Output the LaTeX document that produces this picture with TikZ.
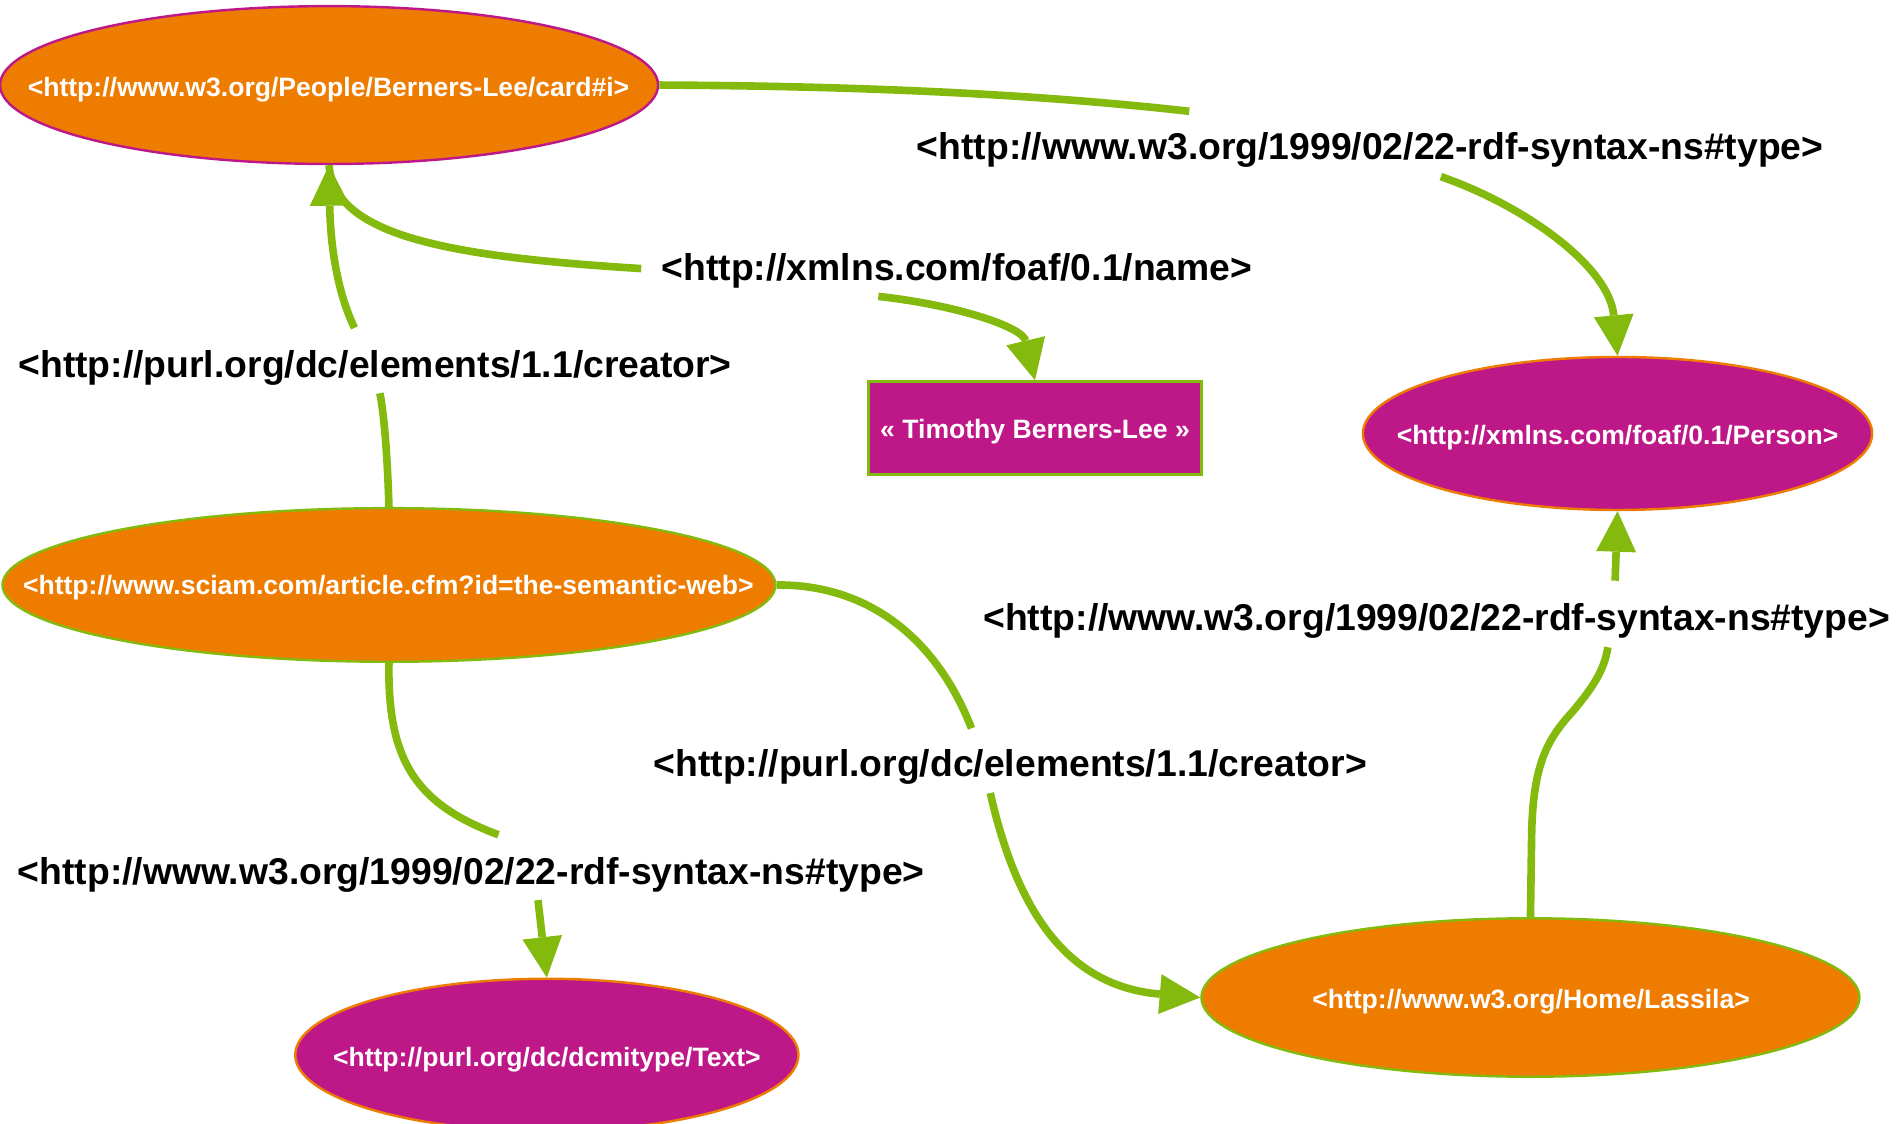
\documentclass[tikz,border=0pt]{standalone}
\usepackage{fontspec}
\setmainfont{Liberation Sans}
\usetikzlibrary{shapes.geometric,arrows.meta}
\definecolor{rdforange}{RGB}{238,124,0}
\definecolor{rdfmagenta}{RGB}{190,24,136}
\definecolor{rdfgreen}{RGB}{132,186,14}
\begin{document}
\begin{tikzpicture}[x=0.02cm,y=-0.02cm,
  ellnode/.style={ellipse, inner sep=0pt, line width=0.04cm},
  resnode/.style={ellnode, fill=rdforange},
  clsnode/.style={ellnode, fill=rdfmagenta, draw=rdforange},
  litnode/.style={rectangle, inner sep=0pt, fill=rdfmagenta, draw=rdfgreen, line width=0.05cm},
  ntext/.style={font=\bfseries\fontsize{12.5}{15}\selectfont, text=white, inner sep=0pt},
  lbl/.style={font=\bfseries\fontsize{17.55}{20}\selectfont, text=black, inner sep=0pt},
  edge/.style={draw=rdfgreen, line width=0.126cm},
  arr/.style={-{Triangle[length=0.67cm,width=0.66cm,line width=0pt]}}
]
\useasboundingbox (0,0) rectangle (1568,929);

% nodes
\node[resnode, draw=rdfmagenta, minimum width=10.88cm, minimum height=2.61cm] (A) at (272,70.3) {};
\node[clsnode, minimum width=8.42cm, minimum height=2.53cm] (B) at (1337,358.3) {};
\node[litnode, minimum width=5.52cm, minimum height=1.54cm] (C) at (855.5,354) {};
\node[resnode, draw=rdfgreen, minimum width=12.78cm, minimum height=2.54cm] (D) at (321.5,483.5) {};
\node[resnode, draw=rdfgreen, minimum width=10.88cm, minimum height=2.62cm] (E) at (1265,824.5) {};
\node[clsnode, minimum width=8.32cm, minimum height=2.52cm] (F) at (452,872) {};

\node[ntext] (At) at (271.5,74) {<http://www.w3.org/People/Berners-Lee/card\#i>};
\node[ntext] (Bt) at (1337,362) {<http://xmlns.com/foaf/0.1/Person>};
\node[ntext] (Ct) at (855.5,357) {« Timothy Berners-Lee »};
\node[ntext] (Dt) at (321,486) {<http://www.sciam.com/article.cfm?id=the-semantic-web>};
\node[ntext] (Et) at (1265.5,828) {<http://www.w3.org/Home/Lassila>};
\node[ntext] (Ft) at (452,876) {<http://purl.org/dc/dcmitype/Text>};

% labels
\node[lbl] (L1) at (1132.5,124) {<http://www.w3.org/1999/02/22-rdf-syntax-ns\#type>};
\node[lbl] (L2) at (791,224) {<http://xmlns.com/foaf/0.1/name>};
\node[lbl] (L3) at (310,304) {<http://purl.org/dc/elements/1.1/creator>};
\node[lbl] (L4) at (1187.5,513) {<http://www.w3.org/1999/02/22-rdf-syntax-ns\#type>};
\node[lbl] (L5) at (835,634) {<http://purl.org/dc/elements/1.1/creator>};
\node[lbl] (L6) at (389.5,723) {<http://www.w3.org/1999/02/22-rdf-syntax-ns\#type>};

% connector ends at the labels
\coordinate (e1a) at (983,92);
\coordinate (e1b) at (1191,146);
\coordinate (e2a) at (530,222);
\coordinate (e2b) at (726,245);
\coordinate (e3a) at (314,325);
\coordinate (e3b) at (293,271);
\coordinate (e4a) at (803,602);
\coordinate (e4b) at (818.5,655.5);
\coordinate (e5a) at (412,690);
\coordinate (e5b) at (444.7,744);
\coordinate (e6a) at (1329,535);
\coordinate (e6b) at (1335,480);

% connectors
\draw[edge] (A.east) .. controls (700,71) and (850,77) .. (e1a);
\draw[edge,arr] (e1b) .. controls (1260,170) and (1330,220) .. (B.north);
\draw[edge] (A.south) .. controls (276,195) and (370,212) .. (e2a);
\draw[edge,arr] (e2b) .. controls (790,252) and (845,270) .. (C.north);
\draw[edge] (D.north) .. controls (320,370) and (317,340) .. (e3a);
\draw[edge,arr] (e3b) .. controls (278,240) and (273,200) .. (A.south);
\draw[edge] (D.east) .. controls (720,483) and (775,530) .. (e4a);
\draw[edge,arr] (e4b) .. controls (840,750) and (880,815) .. (E.west);
\draw[edge] (D.south) .. controls (320,630) and (345,665) .. (e5a);
\draw[edge,arr] (e5b) -- (F.north);
\draw[edge] (E.north) -- (1266,690) .. controls (1267,630) and (1280,610) .. (1300,588) .. controls (1315,570) and (1326,555) .. (e6a);
\draw[edge,arr] (e6b) -- (B.south);
\end{tikzpicture}
\end{document}
